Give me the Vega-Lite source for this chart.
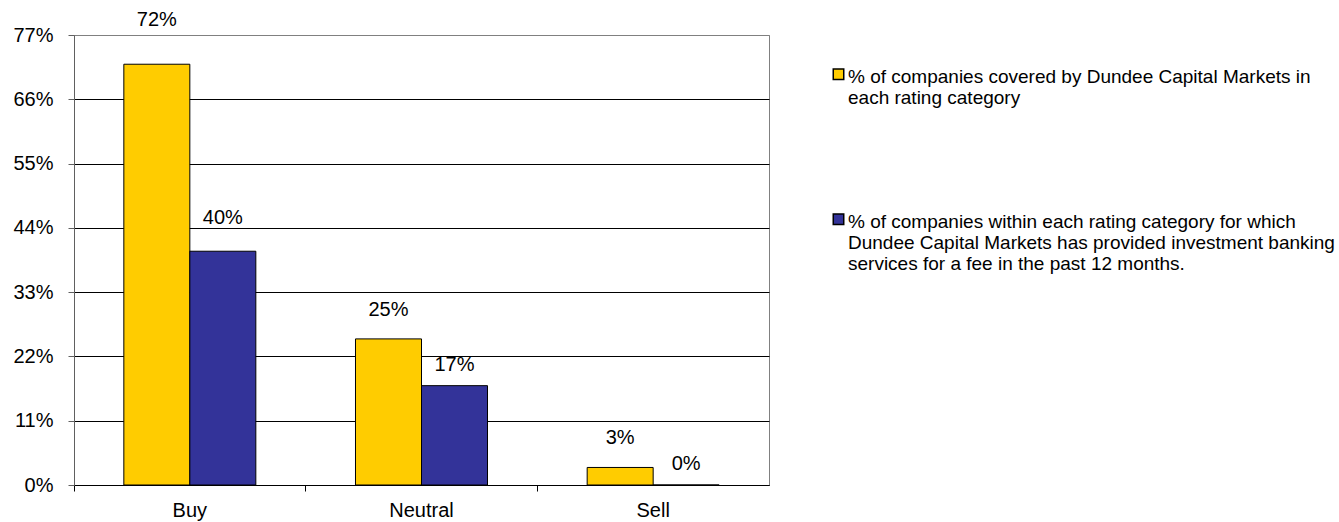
{
  "$schema": "https://vega.github.io/schema/vega-lite/v6.json",
  "width": 695,
  "height": 450,
  "autosize": {"type": "none"},
  "padding": {"left": 74, "top": 35, "right": 570, "bottom": 37},
  "background": "white",
  "config": {
    "font": "Liberation Sans",
    "view": {"stroke": "#808080", "strokeWidth": 1}
  },
  "data": {
    "values": [
      {"rating": "Buy", "series": "covered", "pct": 72},
      {"rating": "Buy", "series": "banking", "pct": 40},
      {"rating": "Neutral", "series": "covered", "pct": 25},
      {"rating": "Neutral", "series": "banking", "pct": 17},
      {"rating": "Sell", "series": "covered", "pct": 3},
      {"rating": "Sell", "series": "banking", "pct": 0}
    ]
  },
  "encoding": {
    "x": {
      "field": "rating",
      "type": "nominal",
      "sort": ["Buy", "Neutral", "Sell"],
      "scale": {"paddingInner": 0, "paddingOuter": 0},
      "axis": {
        "title": null,
        "domainColor": "black",
        "tickColor": "black",
        "tickSize": 6,
        "bandPosition": 0,
        "ticks": true,
        "labels": false
      }
    },
    "xOffset": {
      "field": "series",
      "type": "nominal",
      "sort": ["covered", "banking"],
      "scale": {"paddingInner": 0, "paddingOuter": 0.755}
    },
    "y": {
      "field": "pct",
      "type": "quantitative",
      "scale": {"domain": [0, 77], "nice": false},
      "axis": {
        "title": null,
        "values": [0, 11, 22, 33, 44, 55, 66, 77],
        "labelExpr": "datum.value + '%'",
        "labelFontSize": 20,
        "labelColor": "black",
        "labelPadding": 15,
        "tickSize": 6,
        "tickColor": "#606060",
        "domainColor": "#606060",
        "grid": true,
        "gridColor": {"condition": {"test": "datum.value === 77", "value": "#808080"}, "value": "black"},
        "gridOpacity": 1
      }
    }
  },
  "layer": [
    {
      "mark": {"type": "bar", "stroke": "black", "strokeWidth": 1},
      "encoding": {
        "color": {
          "field": "series",
          "type": "nominal",
          "sort": ["covered", "banking"],
          "scale": {"domain": ["covered", "banking"], "range": ["#FFCC00", "#333399"]},
          "legend": {
            "orient": "none",
            "legendX": 755,
            "legendY": 23,
            "title": null,
            "symbolType": "M-1,0.27H1V2.27H-1Z",
            "symbolSize": 110,
            "symbolStrokeColor": "black",
            "symbolStrokeWidth": 1.5,
            "symbolOpacity": 1,
            "labelFontSize": 19,
            "labelColor": "black",
            "labelOffset": 0,
            "labelBaseline": "top",
            "labelLimit": 600,
            "rowPadding": 95,
            "labelExpr": "datum.label === 'covered' ? ['% of companies covered by Dundee Capital Markets in', 'each rating category'] : ['% of companies within each rating category for which', 'Dundee Capital Markets has provided investment banking', 'services for a fee in the past 12 months.']"
          }
        }
      }
    },
    {
      "transform": [{"filter": "datum.series === 'covered' && datum.pct >= 30"}],
      "mark": {"type": "text", "baseline": "alphabetic", "dy": -38, "fontSize": 20, "color": "black", "text": {"expr": "datum.pct + '%'"}}
    },
    {
      "transform": [{"filter": "datum.series === 'covered' && datum.pct < 30"}],
      "mark": {"type": "text", "baseline": "alphabetic", "dy": -23, "fontSize": 20, "color": "black", "text": {"expr": "datum.pct + '%'"}}
    },
    {
      "transform": [{"filter": "datum.series === 'banking' && datum.pct >= 30"}],
      "mark": {"type": "text", "baseline": "alphabetic", "dy": -27, "fontSize": 20, "color": "black", "text": {"expr": "datum.pct + '%'"}}
    },
    {
      "transform": [{"filter": "datum.series === 'banking' && datum.pct < 30"}],
      "mark": {"type": "text", "baseline": "alphabetic", "dy": -15, "fontSize": 20, "color": "black", "text": {"expr": "datum.pct + '%'"}}
    },
    {
      "transform": [{"filter": "datum.series === 'covered'"}],
      "mark": {"type": "text", "fontSize": 20, "color": "black", "baseline": "alphabetic", "dy": 32, "dx": 33},
      "encoding": {
        "text": {"field": "rating"},
        "y": {"datum": 0}
      }
    }
  ]
}
